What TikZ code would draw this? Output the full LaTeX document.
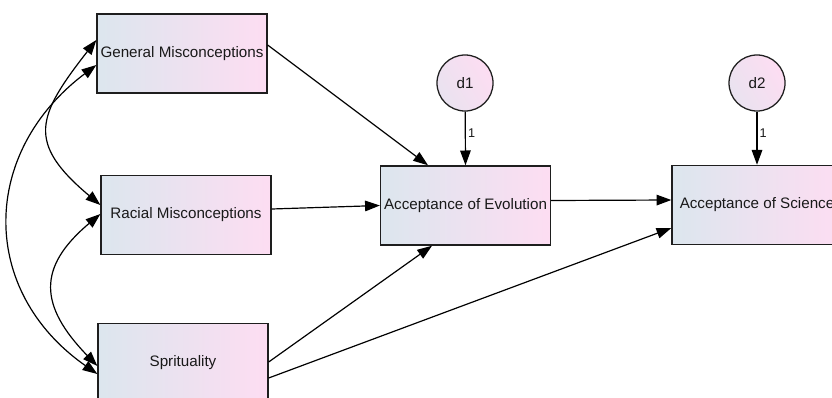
\documentclass[tikz,border=0pt]{standalone}
\usepackage{fontspec}
\setmainfont{Liberation Sans}
\usetikzlibrary{arrows.meta,calc}

\definecolor{boxblue}{RGB}{220,230,238}
\definecolor{boxmid}{RGB}{238,226,242}
\definecolor{boxpink}{RGB}{253,221,242}
\definecolor{linegray}{RGB}{30,30,30}

\begin{document}
\begin{tikzpicture}[x=0.025cm,y=0.025cm,
  obs/.style={draw=linegray, line width=0.9pt, minimum width=4.25cm, minimum height=1.98cm,
    inner sep=0pt, left color=boxblue, middle color=boxmid, right color=boxpink,
    text=black!90, font=\fontsize{10.8}{13}\selectfont},
  err/.style={draw=linegray, line width=0.9pt, circle, minimum size=1.4cm, inner sep=0pt,
    left color=boxblue!60!boxpink, right color=boxpink, shading angle=120,
    text=black!90, font=\fontsize{10.8}{13}\selectfont},
  regpath/.style={line width=0.85pt, -{Triangle[length=10.5pt,width=7.5pt]}},
  cov/.style={line width=0.85pt, {Triangle[length=10.5pt,width=7.5pt]}-{Triangle[length=10.5pt,width=7.5pt]}},
  fixed/.style={right, inner sep=1.5pt, text=black!90, font=\fontsize{9}{10}\selectfont}]
  \useasboundingbox (0,0) rectangle (832,397);
  % Observed variables
  \node[obs] (gm) at (182,343.5) {General Misconceptions};
  \node[obs] (rm) at (186,182) {Racial Misconceptions};
  \node[obs] (sp) at (183,34) {Sprituality};
  \node[obs] (ae) at (465.5,191.5) {Acceptance of Evolution};
  \node[obs] (as) at (757,192) {Acceptance of Science};
  % Error terms
  \node[err] (d1) at (465,314) {d1};
  \node[err] (d2) at (757,314) {d2};
  % Regression paths
  \draw[regpath] ($(gm.east)+(0,8.5)$) -- ($(ae.north)+(-37.5,0)$);
  \draw[regpath] ($(rm.east)+(0,6)$) -- (ae.west);
  \draw[regpath] ($(sp.east)+(0,1)$) -- ($(ae.south)+(-33.5,0)$);
  \draw[regpath] ($(sp.east)+(0,-15)$) -- ($(as.west)+(0,-23)$);
  \draw[regpath] ($(ae.east)+(0,5)$) -- ($(as.west)+(0,5)$);
  \draw[regpath] (d1) -- node[fixed, pos=0.4] {1} (ae.north);
  \draw[regpath] (d2) -- node[fixed, pos=0.4] {1} (as.north);
  % Covariances
  \draw[cov] ($(gm.west)+(0,13.5)$) to[out=232,in=140,looseness=1.5] ($(rm.west)+(0,10)$);
  \draw[cov] ($(gm.west)+(0,-11.5)$) to[out=217,in=145,looseness=1.2] ($(sp.west)+(0,-11)$);
  \draw[cov] ($(rm.west)+(0,1)$) to[out=220,in=134,looseness=1.4] ($(sp.west)+(0,-3)$);
\end{tikzpicture}
\end{document}
